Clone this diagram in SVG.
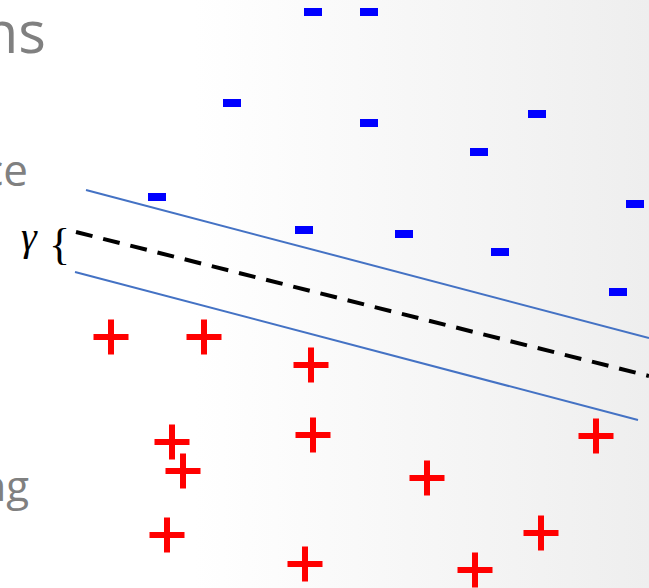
<svg xmlns="http://www.w3.org/2000/svg" width="649" height="588" viewBox="0 0 649 588">
  <defs>
    <linearGradient id="bg" x1="0" y1="0" x2="1" y2="0">
      <stop offset="0" stop-color="#ffffff"/>
      <stop offset="0.3" stop-color="#ffffff"/>
      <stop offset="1" stop-color="#eeeeee"/>
    </linearGradient>
    <path id="plus" d="M-17.5,-3 h35 v6 h-35z M-3,-17.5 h6 v35 h-6z"/>
    <rect id="minus" x="0" y="0" width="18" height="8"/>
  </defs>
  <style>
    .title { font-family: "Open Sans", "Noto Sans", sans-serif; fill: #808080; }
    .pos { fill: #ff0000; }
    .neg { fill: #0000ff; }
    .margin { stroke: #4472c4; stroke-width: 2; fill: none; }
    .boundary { stroke: #000000; stroke-width: 4; stroke-dasharray: 17 11; fill: none; }
    .math { font-family: "Liberation Serif", "DejaVu Serif", serif; fill: #000000; }
  </style>
  <rect x="0" y="0" width="649" height="588" fill="url(#bg)"/>

  <g id="text-fragments">
    <text class="title" x="46" y="53" font-size="58" text-anchor="end">ns</text>
    <text class="title" x="28" y="186" font-size="44" text-anchor="end">ce</text>
    <text class="title" x="29" y="501" font-size="42" text-anchor="end">ng</text>
  </g>

  <g id="connectors">
    <line class="margin" x1="86" y1="190" x2="649" y2="338"/>
    <line class="boundary" x1="76" y1="232" x2="649" y2="376"/>
    <line class="margin" x1="75" y1="272" x2="638" y2="420"/>
  </g>

  <g id="gamma-label">
    <text class="math" x="21" y="250" font-size="40" font-style="italic">γ</text>
    <text class="math" x="49" y="259" font-size="44">{</text>
  </g>

  <g id="negatives" class="neg">
    <use href="#minus" x="304" y="8"/>
    <use href="#minus" x="360" y="8"/>
    <use href="#minus" x="223" y="99"/>
    <use href="#minus" x="360" y="119"/>
    <use href="#minus" x="528" y="110"/>
    <use href="#minus" x="470" y="148"/>
    <use href="#minus" x="148" y="193"/>
    <use href="#minus" x="626" y="200"/>
    <use href="#minus" x="295" y="226"/>
    <use href="#minus" x="395" y="230"/>
    <use href="#minus" x="491" y="248"/>
    <use href="#minus" x="609" y="288"/>
  </g>

  <g id="positives" class="pos">
    <use href="#plus" x="111" y="337"/>
    <use href="#plus" x="204" y="337"/>
    <use href="#plus" x="311" y="365"/>
    <use href="#plus" x="172" y="442"/>
    <use href="#plus" x="313" y="435"/>
    <use href="#plus" x="183" y="471"/>
    <use href="#plus" x="427" y="478"/>
    <use href="#plus" x="596" y="436"/>
    <use href="#plus" x="167" y="535"/>
    <use href="#plus" x="541" y="533"/>
    <use href="#plus" x="305" y="564"/>
    <use href="#plus" x="475" y="570"/>
  </g>
</svg>
